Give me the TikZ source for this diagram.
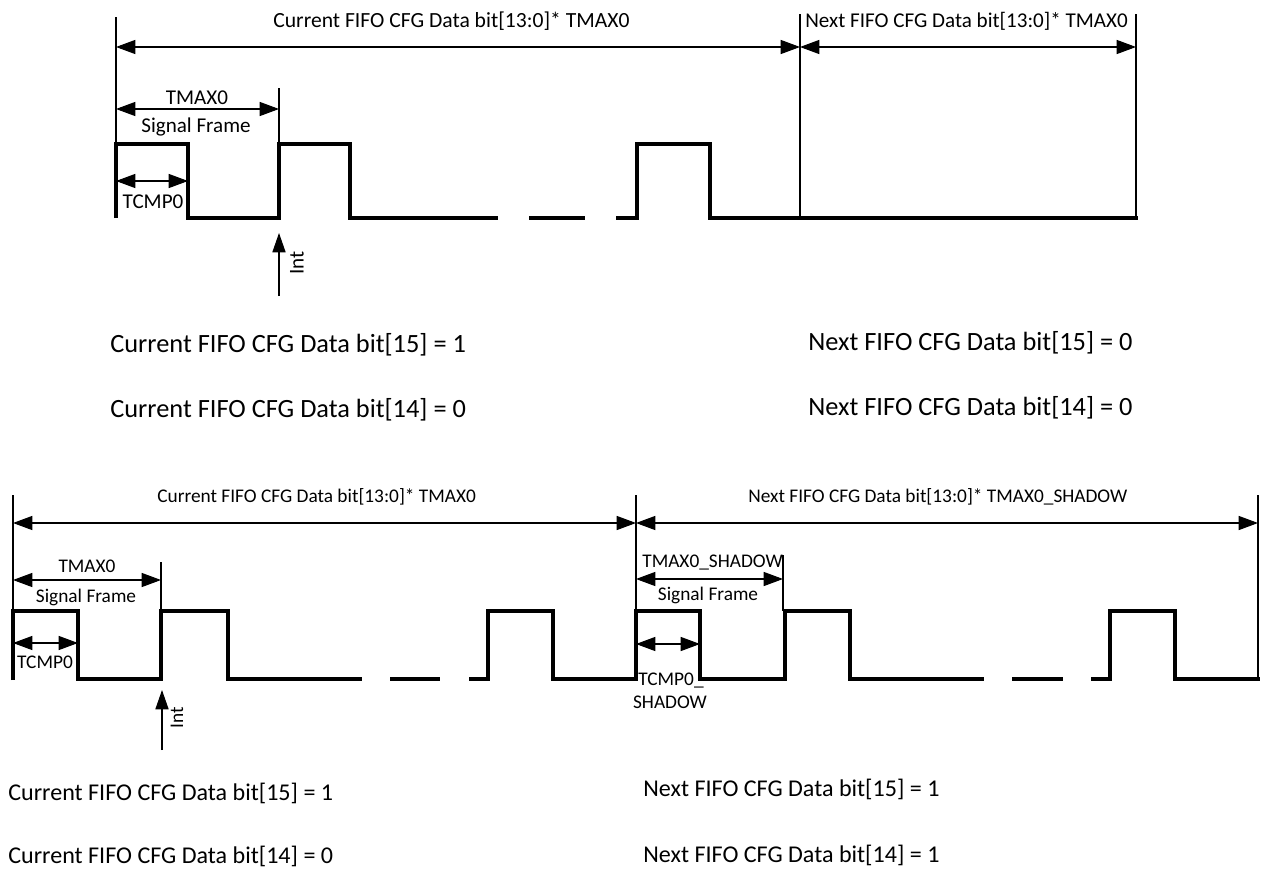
\documentclass[tikz,border=0pt]{standalone}
\usepackage{fontspec}
\setmainfont{Carlito}
\usetikzlibrary{arrows.meta}
\tikzset{
  guide/.style={line width=0.6pt},
  dimline/.style={line width=0.6pt, {Triangle[length=11pt,width=8pt]}-{Triangle[length=11pt,width=8pt]}},
  intarrow/.style={line width=0.6pt, -{Triangle[length=11pt,width=7.5pt]}},
  wave/.style={line width=1.9pt, line join=miter},
  lblA/.style={inner sep=0pt, font=\fontsize{12}{14}\selectfont},
  lblB/.style={inner sep=0pt, font=\fontsize{11}{13}\selectfont},
  noteA/.style={inner sep=0pt, anchor=base west, font=\fontsize{15}{18}\selectfont},
  noteB/.style={inner sep=0pt, anchor=base west, font=\fontsize{13.7}{16}\selectfont},
}
\begin{document}
\begin{tikzpicture}[x=0.02cm, y=-0.02cm]
  \useasboundingbox (0,0) rectangle (1261,872);

  % ---- upper timing chart ----
  \coordinate (uL) at (116,47);
  \coordinate (uM) at (800,47);
  \coordinate (uR) at (1136,47);
  \draw[guide] (116,17) -- (116,144);
  \draw[guide] (800,14) -- (800,218);
  \draw[guide] (1136,14) -- (1136,216);
  \draw[dimline] (uL) -- (uM);
  \draw[dimline] (uM) -- (uR);
  \node[lblA, anchor=base west, font=\fontsize{12.3}{14}\selectfont] (uCurr) at (273,28) {Current FIFO CFG Data bit[13:0]* TMAX0};
  \node[lblA, anchor=base west] (uNext) at (805,28) {Next FIFO CFG Data bit[13:0]* TMAX0};

  \coordinate (uT0) at (116,109);
  \coordinate (uT1) at (279,109);
  \draw[guide] (279,88) -- (279,144);
  \draw[dimline] (uT0) -- (uT1);
  \node[lblA, anchor=base] (uTmax) at (197,104) {TMAX0};
  \node[lblA, anchor=base] (uFrame) at (196,132) {Signal Frame};

  \coordinate (uC0) at (116,181);
  \coordinate (uC1) at (188,181);
  \draw[dimline] (uC0) -- (uC1);
  \node[lblA, anchor=base] (uTcmp) at (153,208) {TCMP0};

  \draw[wave] (116,218) -- (116,144) -- (188,144) -- (188,218) -- (279,218)
    -- (279,144) -- (350,144) -- (350,218) -- (498,218);
  \draw[wave] (529,218) -- (585,218);
  \draw[wave] (616,218) -- (637,218) -- (637,144) -- (710,144) -- (710,218) -- (1138,218);

  \coordinate (uI0) at (279,296);
  \coordinate (uI1) at (279,233);
  \draw[intarrow] (uI0) -- (uI1);
  \node[lblA, rotate=90] (uInt) at (297,263) {Int};

  \node[noteA] (uC15) at (110,352) {Current FIFO CFG Data bit[15] = 1};
  \node[noteA] (uC14) at (110,417) {Current FIFO CFG Data bit[14] = 0};
  \node[noteA] (uN15) at (808,350) {Next FIFO CFG Data bit[15] = 0};
  \node[noteA] (uN14) at (808,415) {Next FIFO CFG Data bit[14] = 0};

  % ---- lower timing chart ----
  \coordinate (lL) at (13,523);
  \coordinate (lM) at (636,523);
  \coordinate (lR) at (1258,523);
  \draw[guide] (13,495) -- (13,611);
  \draw[guide] (636,495) -- (636,611);
  \draw[guide] (1258,495) -- (1258,679);
  \draw[dimline] (lL) -- (lM);
  \draw[dimline] (lM) -- (lR);
  \node[lblB, anchor=base west] (lCurr) at (157,502) {Current FIFO CFG Data bit[13:0]* TMAX0};
  \node[lblB, anchor=base west] (lNext) at (748,502) {Next FIFO CFG Data bit[13:0]* TMAX0\_SHADOW};

  \coordinate (lT0) at (13,580);
  \coordinate (lT1) at (161,580);
  \draw[guide] (161,562) -- (161,611);
  \draw[dimline] (lT0) -- (lT1);
  \node[lblB, anchor=base] (lTmax) at (87,572) {TMAX0};
  \node[lblB, anchor=base] (lFrame) at (86,602) {Signal Frame};

  \coordinate (lC0) at (13,643);
  \coordinate (lC1) at (78,643);
  \draw[dimline] (lC0) -- (lC1);
  \node[lblB, anchor=base] (lTcmp) at (45,668) {TCMP0};

  \coordinate (sT0) at (636,579);
  \coordinate (sT1) at (783,579);
  \draw[guide] (783,555) -- (783,611);
  \draw[dimline] (sT0) -- (sT1);
  \node[lblB, anchor=base west] (sTmax) at (642,567) {TMAX0\_SHADOW};
  \node[lblB, anchor=base] (sFrame) at (708,600) {Signal Frame};

  \coordinate (sC0) at (636,644);
  \coordinate (sC1) at (700,644);
  \draw[dimline] (sC0) -- (sC1);
  \node[lblB, anchor=base] (sTcmpA) at (671,685) {TCMP0\_};
  \node[lblB, anchor=base] (sTcmpB) at (670,708) {SHADOW};

  \draw[wave] (13,680) -- (13,611) -- (78,611) -- (78,679) -- (161,679)
    -- (161,611) -- (228,611) -- (228,679) -- (362,679);
  \draw[wave] (390,679) -- (440,679);
  \draw[wave] (469,679) -- (488,679) -- (488,611) -- (553,611) -- (553,679)
    -- (636,679) -- (636,611) -- (700,611) -- (700,679) -- (785,679)
    -- (785,611) -- (850,611) -- (850,679) -- (984,679);
  \draw[wave] (1012,679) -- (1063,679);
  \draw[wave] (1091,679) -- (1110,679) -- (1110,611) -- (1175,611) -- (1175,679) -- (1260,679);

  \coordinate (lI0) at (162,750);
  \coordinate (lI1) at (162,690);
  \draw[intarrow] (lI0) -- (lI1);
  \node[lblB, rotate=90] (lInt) at (177,718) {Int};

  \node[noteB] (lC15) at (8,800) {Current FIFO CFG Data bit[15] = 1};
  \node[noteB] (lC14) at (8,863) {Current FIFO CFG Data bit[14] = 0};
  \node[noteB] (lN15) at (643,796) {Next FIFO CFG Data bit[15] = 1};
  \node[noteB] (lN14) at (643,862) {Next FIFO CFG Data bit[14] = 1};
\end{tikzpicture}
\end{document}
